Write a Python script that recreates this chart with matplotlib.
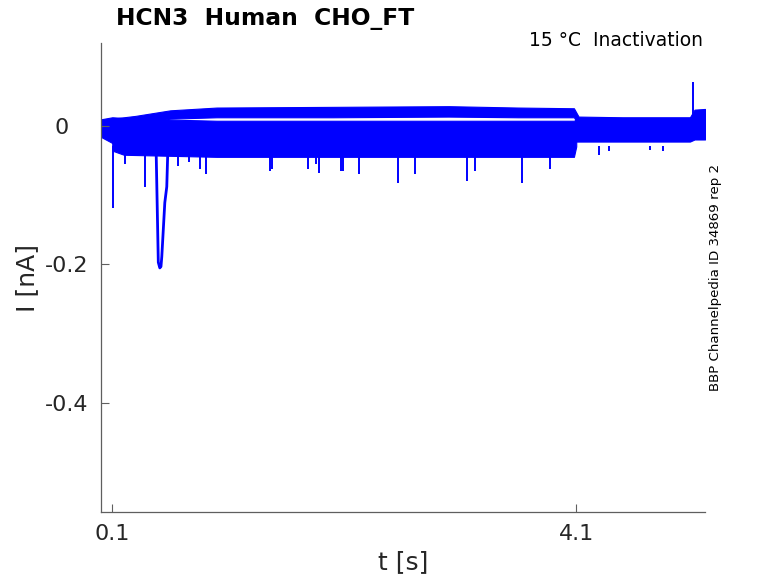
import numpy as np
import matplotlib
matplotlib.use('Agg')
import matplotlib.pyplot as plt
import matplotlib.transforms as mtransforms

# envelopes of the noisy sweep bundles [s], [nA]
# top sweep
top_t = [0.0, 0.1, 0.3, 0.6, 1.0, 2.0, 3.0, 3.6, 4.08, 4.12, 4.5, 5.0, 5.08, 5.12, 5.21]
top_hi = [0.008, 0.010, 0.014, 0.022, 0.026, 0.027, 0.028, 0.026, 0.025, 0.013, 0.012, 0.012, 0.012, 0.023, 0.024]
top_lo = [-0.005, -0.002, 0.002, 0.010, 0.012, 0.012, 0.013, 0.012, 0.012, 0.001, 0.002, 0.002, 0.002, 0.012, 0.012]

# upper part of the dense bundle
mid_t = [0.0, 0.1, 0.3, 1.0, 4.08, 4.12, 5.08, 5.12, 5.21]
mid_hi = [0.009, 0.012, 0.010, 0.007, 0.007, 0.011, 0.011, 0.016, 0.016]
mid_lo = [-0.016, -0.025, -0.025, -0.023, -0.023, -0.023, -0.023, -0.020, -0.020]

# lower part of the dense bundle (only during the pulse)
low_t = [0.1, 0.2, 1.0, 4.08, 4.1]
low_hi = [-0.018, -0.022, -0.022, -0.022, -0.022]
low_lo = [-0.036, -0.042, -0.045, -0.045, -0.030]

# downward spikes: time and tip
spike_t = [0.11, 0.21, 0.385, 0.67, 0.76, 0.86, 0.91, 1.46, 1.48, 1.79, 1.86, 1.88,
           2.07, 2.09, 2.23, 2.56, 2.71, 3.16, 3.23, 3.63, 3.87, 4.30, 4.38, 4.74, 4.85]
spike_tip = [-0.118, -0.056, -0.089, -0.058, -0.053, -0.063, -0.070, -0.066, -0.062, -0.062,
             -0.056, -0.068, -0.066, -0.066, -0.070, -0.082, -0.070, -0.080, -0.066, -0.082,
             -0.063, -0.042, -0.037, -0.035, -0.037]

# large transient around 0.5 s
dip_t = [0.479, 0.497, 0.51, 0.52, 0.527, 0.553, 0.570, 0.578]
dip_i = [-0.042, -0.197, -0.205, -0.203, -0.189, -0.111, -0.088, -0.042]

# upward spike near the end
up_t = 5.11
up_base = 0.010
up_tip = 0.063

blue = (0, 0, 1)
grey = '#5f5f5f'

fig = plt.figure(figsize=(7.78, 5.83), dpi=100)
ax = fig.add_axes([101/778, 71/583, 604/778, 469/583])

ax.fill_between(top_t, top_lo, top_hi, color=blue, lw=0.8)
ax.fill_between(mid_t, mid_lo, mid_hi, color=blue, lw=0.8)
ax.fill_between(low_t, low_lo, low_hi, color=blue, lw=0.8)
ax.vlines(spike_t, -0.03, spike_tip, color=blue, lw=1.4)
ax.plot(dip_t, dip_i, color=blue, lw=2.0)
ax.vlines([up_t], up_base, up_tip, color=blue, lw=1.4)

ax.set_xlim(0.003, 5.21)
ax.set_ylim(-0.5566, 0.119)

ax.set_xticks([0.1, 4.1])
ax.set_xticklabels(['0.1', '4.1'])
ax.set_yticks([-0.4, -0.2, 0])
ax.set_yticklabels(['-0.4', '-0.2', '0'])
ax.tick_params(direction='in', length=6, width=0.8, color=grey,
               labelsize=16, labelcolor='#262626', pad=9)
# the zero label sits further left in the reference
lab0 = ax.get_yticklabels()[2]
lab0.set_transform(lab0.get_transform() + mtransforms.ScaledTranslation(-0.20, 0, fig.dpi_scale_trans))

for s in ['top', 'right']:
    ax.spines[s].set_visible(False)
for s in ['left', 'bottom']:
    ax.spines[s].set_color(grey)
    ax.spines[s].set_linewidth(0.9)

ax.set_xlabel('t [s]', fontsize=18, color='#262626', labelpad=4)
ax.set_ylabel('I [nA]', fontsize=18, color='#262626', labelpad=4)

fig.text(116/778, 1 - 18/583, 'HCN3  Human  CHO_FT', fontsize=16.8, fontweight='bold',
         ha='left', va='center')
fig.text(703/778, 1 - 41/583, '15 °C  Inactivation', fontsize=13.5, ha='right', va='center')
fig.text(716/778, 1 - 277/583, 'BBP Channelpedia ID 34869 rep 2', fontsize=9.6,
         rotation=90, ha='center', va='center')

fig.savefig('out.png', dpi=100)
